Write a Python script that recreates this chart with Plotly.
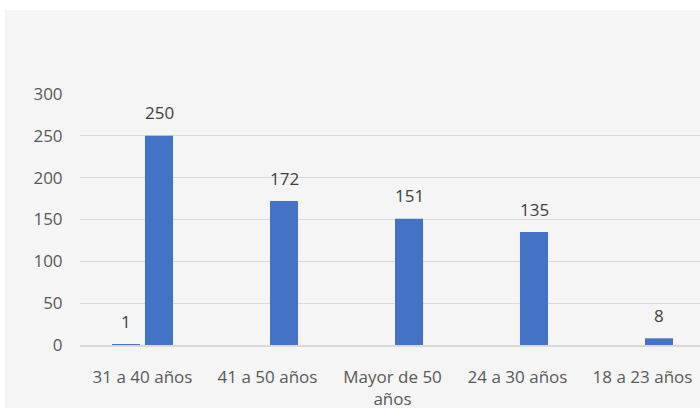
import plotly.graph_objects as go

categories = ["31 a 40 años", "41 a 50 años", "Mayor de 50<br>años", "24 a 30 años", "18 a 23 años"]
series1 = [1, None, None, None, None]
series2 = [250, 172, 151, 135, 8]
y_ticks = [0, 50, 100, 150, 200, 250, 300]

bar_color = "#4472c4"
font_family = "Open Sans, Noto Sans, sans-serif"
FS = 17
label_font = dict(family=font_family, size=FS, color="#404040")

L, R, T, B = 80, 0, 94, 65
W, H = 700, 410
pw, ph = W - L - R, H - T - B
bar_off = 16.5  # pixel offset of each series from its category centre

fig = go.Figure()
fig.add_trace(go.Bar(x=categories, y=series1, marker_color=bar_color,
                     marker_line_width=0, hoverinfo="skip"))
fig.add_trace(go.Bar(x=categories, y=series2, marker_color=bar_color, marker_line_width=0))

for series, shift in ((series1, -bar_off), (series2, bar_off)):
    for cat, val in zip(categories, series):
        if val is None:
            continue
        fig.add_annotation(x=cat, y=val, text=str(val), showarrow=False,
                           xshift=shift, yshift=23, yanchor="middle",
                           font=label_font)

fig.update_layout(
    width=W, height=H,
    margin=dict(l=L, r=R, t=T, b=B, pad=0),
    paper_bgcolor="white",
    plot_bgcolor="#f5f5f5",
    showlegend=False,
    barmode="group",
    bargap=0.472,
    bargroupgap=0.15,
    font=dict(family=font_family, size=FS, color="#595959"),
    xaxis=dict(range=[-0.5, 4.46], showgrid=False, zeroline=False,
               showline=True, linecolor="#d9d9d9", linewidth=1.8, layer="above traces",
               ticks="outside", ticklen=16, tickcolor="rgba(0,0,0,0)",
               tickfont=dict(size=FS, color="#595959")),
    yaxis=dict(range=[0, 300], tickvals=y_ticks, showgrid=True, gridcolor="#d9d9d9",
               gridwidth=1.3, zeroline=False,
               showline=False, ticks="outside", ticklen=13, tickcolor="rgba(0,0,0,0)",
               tickfont=dict(size=FS, color="#595959")),
    shapes=[dict(type="rect", xref="paper", yref="paper",
                 x0=(5 - L) / pw, x1=1.01, y0=(T + ph - 408) / ph, y1=(T + ph - 10) / ph,
                 fillcolor="#f5f5f5", line=dict(width=0), layer="below")],
)

fig.write_html("out.html", config={"displayModeBar": False},
               post_script="document.body.style.margin='0';document.body.style.overflow='hidden';")
